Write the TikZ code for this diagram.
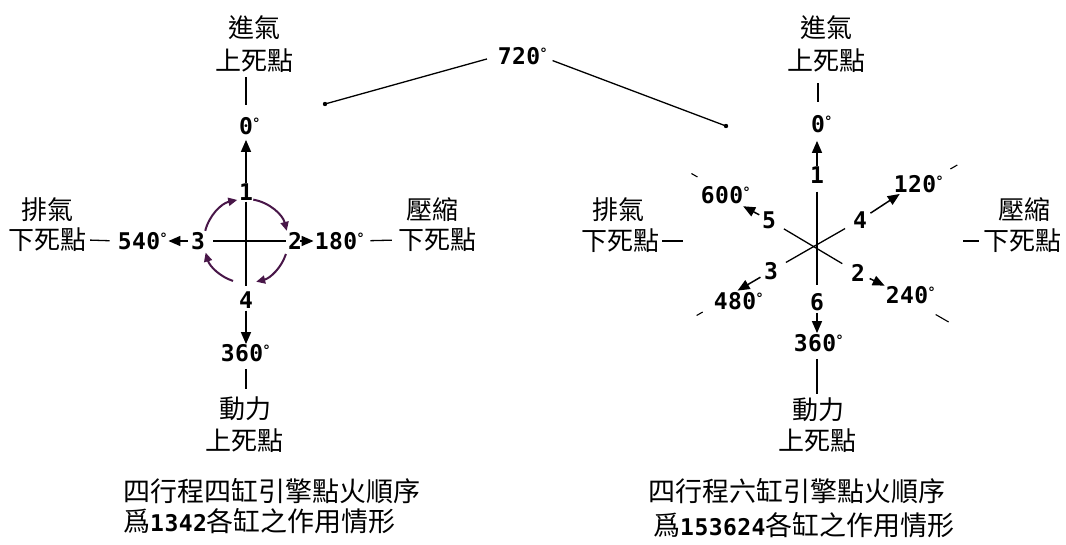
\documentclass[tikz,border=0pt]{standalone}
\usepackage{fontspec}
\newfontfamily\cjk{Noto Sans CJK TC}
\newfontfamily\dig[LetterSpace=2]{DejaVu Sans Mono}
\newfontfamily\dv{DejaVu Sans}
\usetikzlibrary{arrows.meta}
\definecolor{arccol}{RGB}{72,22,72}
\newcommand\dg{\rlap{\raisebox{6pt}{\fontsize{14}{14}\selectfont\dv °}}}
\newcommand\dgt[1]{{\dig\bfseries\fontsize{23}{23}\selectfont #1}}
\tikzset{
  cj/.style={font=\cjk\fontsize{26}{26}\selectfont, inner sep=0pt},
  captext/.style={font=\cjk\fontsize{27}{27}\selectfont, inner sep=0pt, anchor=west},
  num/.style={font=\dig\bfseries\fontsize{23}{23}\selectfont, inner sep=0pt},
  ln/.style={line width=1.3pt},
  arr/.style={line width=1.5pt, -{Triangle[length=12pt,width=10pt]}},
  carc/.style={draw=arccol, line width=2pt, -{Triangle[length=9pt,width=8pt]}},
}
\begin{document}
\begin{tikzpicture}[x=1pt,y=1pt]
\useasboundingbox (0,0) rectangle (1066,-544);
\fill[white] (0,0) rectangle (1066,-544);

% ---------------- left diagram ----------------
\coordinate (L-c) at (246,-241);
\node[cj] (L-in)  at (254,-28) {進氣};
\node[cj] (L-tdc) at (254,-61) {上死點};
\node[num] (L-d0) at (246,-126) {0\dg};
\node[num] (L-1) at (246,-192) {1};
\node[num] (L-2) at (295,-241) {2};
\node[num] (L-3) at (198,-241) {3};
\node[num] (L-4) at (246,-300) {4};
\node[num] (L-d180) at (336,-241) {180\dg};
\node[num] (L-d540) at (139,-241) {540\dg};
\node[num] (L-d360) at (242,-353) {360\dg};
\node[cj] (L-pw)   at (245,-409) {動力};
\node[cj] (L-btdc) at (244,-441) {上死點};
\node[cj] (L-ex)   at (47,-210) {排氣};
\node[cj] (L-exb)  at (48,-240) {下死點};
\node[cj] (L-cp)   at (432,-210) {壓縮};
\node[cj] (L-cpb)  at (437,-240) {下死點};

\draw[ln, shorten <=4pt, shorten >=12pt] (L-tdc.south -| L-d0.north) -- (L-d0.north);
\draw[arr, shorten >=5pt] (L-1.north) -- (L-1.north |- L-d0.south);
\draw[ln, shorten <=1pt, shorten >=5pt] (L-1.south) -- (L-1.south |- L-4.north);
\draw[ln, shorten <=8pt, shorten >=2pt] (L-3.east) -- (L-2.west);
\draw[arr, shorten <=2pt] (L-4.south) -- (L-4.south |- L-d360.north);
\draw[ln, shorten <=7pt, shorten >=8pt] (L-d360.south -| L-4.south) -- (L-pw.north -| L-4.south);
\draw[arr, shorten <=3pt, shorten >=8pt] (L-3.west) -- (L-d540.east);
\draw[arr, shorten <=2pt, shorten >=1pt] (L-2.east) -- (L-d180.west);
\draw[ln, shorten <=3pt, shorten >=8pt] (L-exb.east) -- (L-d540.west);
\draw[ln, shorten <=13pt, shorten >=6pt] (L-d180.east) -- (L-cpb.west);

\draw[carc] (L-c) ++(166:42) arc[start angle=166, end angle=102, radius=42];
\draw[carc] (L-c) ++(80:42) arc[start angle=80, end angle=14, radius=42];
\draw[carc] (L-c) ++(-18:42) arc[start angle=-18, end angle=-76, radius=42];
\draw[carc] (L-c) ++(-108:42) arc[start angle=-108, end angle=-164, radius=42];

% ---------------- 720 ----------------
\node[num] (d720) at (519,-56) {720\dg};
\coordinate (dotL) at (325,-104);
\coordinate (dotR) at (726,-126);
\fill (dotL) circle (2.2pt);
\fill (dotR) circle (2.2pt);
\draw[ln, shorten >=11pt] (dotL) -- (d720.west);
\draw[ln, shorten <=13pt] (d720.east) -- (dotR);

% ---------------- right diagram ----------------
\coordinate (R-c) at (817,-246);
\node[cj] (R-in)  at (826,-28) {進氣};
\node[cj] (R-tdc) at (826,-61) {上死點};
\node[num] (R-d0) at (818,-124) {0\dg};
\node[num] (R-1) at (817,-175) {1};
\node[num] (R-5) at (769,-220) {5};
\node[num] (R-4) at (860,-220) {4};
\node[num] (R-3) at (771,-271) {3};
\node[num] (R-2) at (858,-273) {2};
\node[num] (R-6) at (817,-302) {6};
\node[num] (R-d600) at (722,-195) {600\dg};
\node[num] (R-d120) at (915,-184) {120\dg};
\node[num] (R-d240) at (907,-295) {240\dg};
\node[num] (R-d480) at (735,-301) {480\dg};
\node[num] (R-d360) at (815,-343) {360\dg};
\node[cj] (R-pw)   at (818,-410) {動力};
\node[cj] (R-btdc) at (817,-441) {上死點};
\node[cj] (R-ex)   at (618,-210) {排氣};
\node[cj] (R-exb)  at (620,-241) {下死點};
\node[cj] (R-cp)   at (1024,-210) {壓縮};
\node[cj] (R-cpb)  at (1022,-241) {下死點};

\draw[ln, shorten <=10pt, shorten >=13pt] (R-tdc.south -| R-d0.north) -- (R-d0.north);
\draw[arr, shorten >=8pt] (R-1.north) -- (R-1.north |- R-d0.south);
\draw[ln, shorten <=8pt, shorten >=8pt] (R-1.south) -- (R-1.south |- R-6.north);
\draw[arr, shorten <=2pt, shorten >=1pt] (R-6.south) -- (R-6.south |- R-d360.north);
\draw[ln, shorten <=7pt, shorten >=4pt] (R-d360.south -| R-6.south) -- (R-pw.north -| R-6.south);
\draw[ln, shorten <=9pt, shorten >=10pt] (R-5) -- (R-2);
\draw[ln, shorten <=9pt, shorten >=9pt] (R-3) -- (R-4);
\draw[arr, shorten <=3pt, shorten >=5pt] (R-5) -- (R-d600);
\draw[arr, shorten <=4pt, shorten >=2pt] (R-4) -- (R-d120);
\draw[arr, shorten <=5pt, shorten >=1pt] (R-2) -- (R-d240.north west);
\draw[arr, shorten <=4pt, shorten >=3pt] (R-3) -- (R-d480.north);
\draw[ln] ([xshift=3pt]R-exb.east) -- ([xshift=24pt]R-exb.east);
\draw[ln] ([xshift=-4pt]R-cpb.west) -- ([xshift=-20pt]R-cpb.west);
\draw[line width=1.1pt] (R-c) ++(150:138) -- ++(150:7);
\draw[line width=1.1pt] (R-c) ++(30:154) -- ++(30:8);
\draw[line width=1.1pt] (R-c) ++(210:132) -- ++(210:7);
\draw[line width=1.1pt] (R-c) ++(-30:137) -- ++(-30:15);

% ---------------- captions ----------------
\node[captext] (L-cap1) at (123,-491) {四行程四缸引擎點火順序};
\node[captext] (L-cap2) at (123,-521) {爲\dgt{1342}各缸之作用情形};
\node[captext] (R-cap1) at (648,-491) {四行程六缸引擎點火順序};
\node[captext] (R-cap2) at (653,-525) {爲\dgt{153624}各缸之作用情形};
\end{tikzpicture}
\end{document}
